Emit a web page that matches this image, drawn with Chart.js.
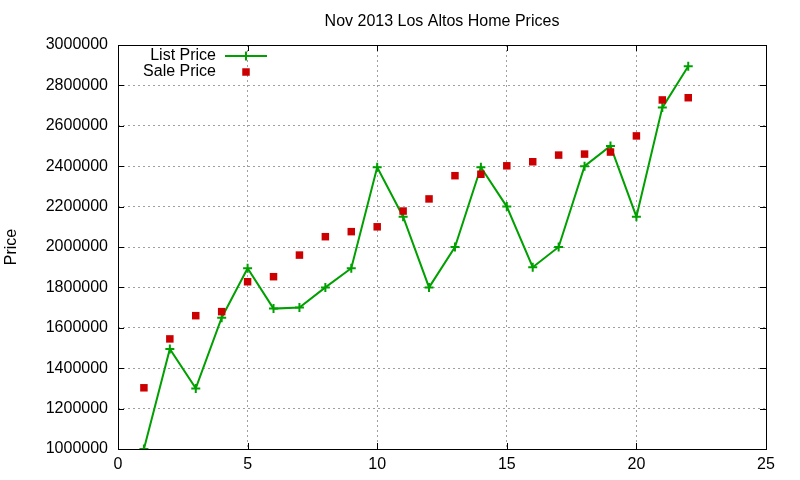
<!DOCTYPE html>
<html>
<head>
<meta charset="utf-8">
<script src="https://cdn.jsdelivr.net/npm/chart.js@4/dist/chart.umd.min.js"></script>
<style>
  html, body { margin: 0; padding: 0; background: #fff; }
  #wrap { width: 800px; height: 480px; }
</style>
</head>
<body>
<div id="wrap"><canvas id="priceChart" width="800" height="480"></canvas></div>
<script>
// values
const months = [1, 2, 3, 4, 5, 6, 7, 8, 9, 10, 11, 12, 13, 14, 15, 16, 17, 18, 19, 20, 21, 22];
const listPrice = [1000000, 1495000, 1300000, 1650000, 1895000, 1695000, 1700000, 1800000, 1895000, 2395000, 2150000,
  1800000, 2000000, 2395000, 2200000, 1900000, 2000000, 2400000, 2500000, 2150000, 2690000, 2895000];
const salePrice = [1303000, 1545000, 1660000, 1680000, 1828000, 1853000, 1960000, 2051000, 2076000, 2100000, 2178000,
  2238000, 2353000, 2360000, 2402000, 2422000, 2455000, 2460000, 2470000, 2550000, 2728000, 2739000];
const chartTitle = 'Nov 2013 Los Altos Home Prices';
const yTitle = 'Price';

const FONT = '"Liberation Sans", Arial, sans-serif';
const GREEN = '#00a000';
const RED = '#cc0000';

// gnuplot-like frame, inward ticks, title and in-plot key
const gnuplotLook = {
  id: 'gnuplotLook',
  afterDatasetsDraw(chart) {
    const { ctx, chartArea: a, scales } = chart;
    ctx.save();
    ctx.strokeStyle = '#000';
    ctx.lineWidth = 1;
    ctx.strokeRect(a.left + 0.5, a.top + 0.5, a.right - a.left, a.bottom - a.top);
    ctx.beginPath();
    scales.x.ticks.forEach(t => {
      const px = Math.round(scales.x.getPixelForValue(t.value)) + 0.5;
      ctx.moveTo(px, a.bottom); ctx.lineTo(px, a.bottom - 6);
      ctx.moveTo(px, a.top); ctx.lineTo(px, a.top + 6);
    });
    scales.y.ticks.forEach(t => {
      const py = Math.round(scales.y.getPixelForValue(t.value)) + 0.5;
      ctx.moveTo(a.left, py); ctx.lineTo(a.left + 6, py);
      ctx.moveTo(a.right, py); ctx.lineTo(a.right - 6, py);
    });
    ctx.stroke();

    // title centred over the plot
    ctx.fillStyle = '#000';
    ctx.font = '16px ' + FONT;
    ctx.textAlign = 'center';
    ctx.textBaseline = 'middle';
    ctx.fillText(chartTitle, (a.left + a.right) / 2, 22);

    // key
    const ds = chart.data.datasets;
    const textRight = a.left + 98, sampleX = a.left + 128;
    ds.forEach((d, i) => {
      const y = a.top + 11 + i * 16;
      ctx.fillStyle = '#000';
      ctx.textAlign = 'right';
      ctx.fillText(d.label, textRight, y);
      if (d.showLine) {
        ctx.strokeStyle = d.borderColor;
        ctx.lineWidth = 2;
        ctx.beginPath();
        ctx.moveTo(sampleX - 21, y); ctx.lineTo(sampleX + 21, y);
        ctx.stroke();
      }
      ctx.fillStyle = d.pointBackgroundColor;
      ctx.strokeStyle = d.pointBorderColor;
      ctx.lineWidth = d.pointBorderWidth;
      Chart.helpers.drawPoint(ctx, {
        pointStyle: d.pointStyle, radius: d.pointRadius, borderWidth: d.pointBorderWidth
      }, sampleX, y);
    });
    ctx.restore();
  }
};

new Chart(document.getElementById('priceChart').getContext('2d'), {
  type: 'scatter',
  data: {
    datasets: [
      {
        label: 'List Price',
        data: months.map((m, i) => ({ x: m, y: listPrice[i] })),
        showLine: true,
        borderColor: GREEN,
        backgroundColor: GREEN,
        borderWidth: 2,
        pointStyle: 'cross',
        pointRadius: 4.5,
        pointBorderWidth: 2,
        pointBorderColor: GREEN,
        pointBackgroundColor: GREEN,
        order: 2
      },
      {
        label: 'Sale Price',
        data: months.map((m, i) => ({ x: m, y: salePrice[i] })),
        showLine: false,
        borderColor: RED,
        backgroundColor: RED,
        borderWidth: 0,
        pointStyle: 'rect',
        pointRadius: 5.3,
        pointBorderWidth: 0,
        pointBorderColor: RED,
        pointBackgroundColor: RED,
        order: 1
      }
    ]
  },
  options: {
    responsive: false,
    animation: false,
    layout: { padding: { top: 45, right: 34, left: 0, bottom: 0 } },
    plugins: {
      legend: { display: false },
      title: { display: false },
      tooltip: { enabled: false }
    },
    scales: {
      x: {
        type: 'linear',
        min: 0, max: 25,
        ticks: { stepSize: 5, color: '#000', font: { family: FONT, size: 16 }, padding: 6, maxRotation: 0 },
        grid: { color: '#a0a0a0', drawTicks: false, tickLength: 0 },
        border: { display: false, dash: [2, 3] },
        afterFit: s => { s.height = 31; }
      },
      y: {
        min: 1000000, max: 3000000,
        ticks: {
          stepSize: 200000, color: '#000', font: { family: FONT, size: 16 }, padding: 10,
          callback: v => String(v)
        },
        grid: { color: '#a0a0a0', drawTicks: false, tickLength: 0 },
        border: { display: false, dash: [2, 3] },
        title: { display: true, text: yTitle, color: '#000', font: { family: FONT, size: 16 }, padding: { top: 2, bottom: 0 } },
        afterFit: s => { s.width = 118; }
      }
    }
  },
  plugins: [gnuplotLook]
});
</script>
</body>
</html>
